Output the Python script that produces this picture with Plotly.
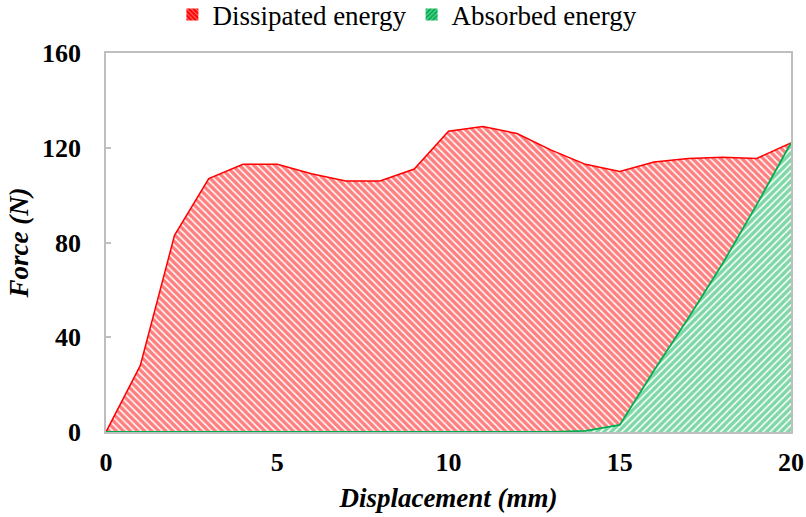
import plotly.graph_objects as go

# Displacement (mm) sample positions
displacement = [0, 1, 2, 3, 4, 5, 6, 7, 8, 9, 10, 11, 12, 13, 14, 15, 16, 17, 18, 19, 20]
# Total force-displacement curve (N) – area under it is dissipated energy
force_dissipated = [0, 28, 83, 107, 113, 113, 109, 106, 106, 111, 127, 129, 126, 119, 113, 110, 114, 115.5, 116, 115.5, 122]
# Unloading curve (N) – area under it is absorbed energy
force_absorbed = [0, 0, 0, 0, 0, 0, 0, 0, 0, 0, 0, 0, 0, 0, 0.5, 3, 26, 48, 71, 96, 122]

x_ticks = [0, 5, 10, 15, 20]
y_ticks = [0, 40, 80, 120, 160]

RED = "#FF0000"
GREEN = "#00B050"
SERIF = "Liberation Serif"

fig = go.Figure()

# Hatched areas
fig.add_trace(go.Scatter(
    x=displacement, y=force_dissipated,
    name="Dissipated energy",
    mode="lines",
    line=dict(color=RED, width=1.5),
    fill="tozeroy",
    fillcolor="white",
    fillpattern=dict(shape="\\", fgcolor=RED, bgcolor="white", size=5, solidity=0.7),
    showlegend=False,
))

fig.add_trace(go.Scatter(
    x=displacement, y=force_absorbed,
    name="Absorbed energy",
    mode="lines",
    line=dict(color=GREEN, width=1.8),
    fill="tozeroy",
    fillcolor="white",
    fillpattern=dict(shape="/", fgcolor=GREEN, bgcolor="white", size=5, solidity=0.7),
    showlegend=False,
))

# Square hatched legend swatches
fig.add_trace(go.Bar(
    x=[None], y=[None], name="Dissipated energy",
    marker=dict(color=RED, line=dict(width=0),
                pattern=dict(shape="\\", fgcolor="white", bgcolor=RED, size=4, solidity=0.3)),
    showlegend=True,
))
fig.add_trace(go.Bar(
    x=[None], y=[None], name="Absorbed energy",
    marker=dict(color=GREEN, line=dict(width=0),
                pattern=dict(shape="/", fgcolor="white", bgcolor=GREEN, size=4, solidity=0.3)),
    showlegend=True,
))

axis_line = "#BFBFBF"

fig.update_layout(
    width=806, height=517,
    margin=dict(l=106, r=15, t=0, b=85, autoexpand=False),
    paper_bgcolor="white",
    plot_bgcolor="white",
    font=dict(family=SERIF, color="black"),
    showlegend=True,
    legend=dict(
        orientation="h",
        x=0.44, xanchor="center",
        y=(432 - 15) / 432, yanchor="middle",
        font=dict(family=SERIF, size=27, color="black"),
        itemwidth=30,
        traceorder="normal",
        bgcolor="rgba(0,0,0,0)",
    ),
    xaxis=dict(
        range=[0, 20],
        tickvals=x_ticks,
        ticks="",
        ticklabelstandoff=6,
        showgrid=False,
        zeroline=False,
        automargin=False,
        showline=True, linecolor=axis_line, linewidth=1.5, mirror=True,
        tickfont=dict(family=SERIF, size=26, weight="bold", color="black"),
        title=dict(text="<b><i>Displacement (mm)</i></b>",
                   font=dict(family=SERIF, size=27, color="black"), standoff=12),
    ),
    yaxis=dict(
        range=[0, 160],
        domain=[0, 379 / 432],
        tickvals=y_ticks,
        ticks="inside", ticklen=5, tickcolor=axis_line, tickwidth=1.5,
        ticklabelstandoff=18,
        showgrid=False,
        zeroline=False,
        automargin=False,
        showline=True, linecolor=axis_line, linewidth=1.5, mirror=True,
        tickfont=dict(family=SERIF, size=26, weight="bold", color="black"),
        title=dict(text="<b><i>Force (N)</i></b>",
                   font=dict(family=SERIF, size=27, color="black"), standoff=6),
    ),
)

fig.write_html("out.html")
